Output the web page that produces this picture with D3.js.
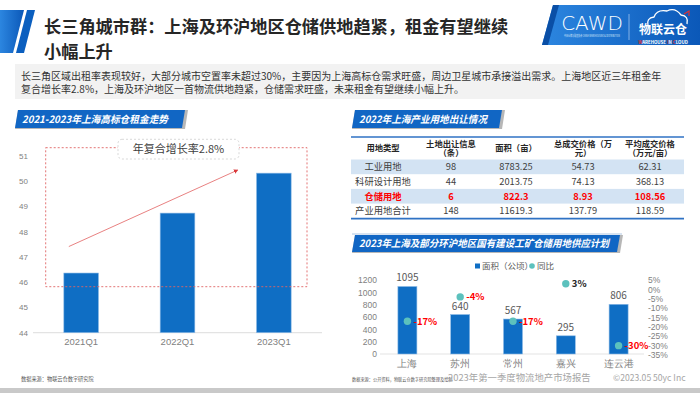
<!DOCTYPE html>
<html>
<head>
<meta charset="utf-8">
<script src="https://cdn.jsdelivr.net/npm/d3@7"></script>
<style>
  body { margin: 0; background: #fff; }
  svg { display: block; font-family: "Noto Sans CJK SC", "Noto Sans", sans-serif; }
</style>
</head>
<body>
<svg width="700" height="393"></svg>
<script>
// **** data ****
var rentQuarters = ['2021Q1', '2022Q1', '2023Q1'];
var rentValues = [46.36, 48.73, 50.31];
var rentTicks = [44, 45, 46, 47, 48, 49, 50, 51];
var cagrLabel = '年复合增长率2.8%';

var landHeaders = [['用地类型'], ['土地出让信息', '（条）'], ['面积（亩）'], ['总成交价格（万', '元）'], ['平均成交价格', '（万元/亩）']];
var landTypes = ['工业用地', '科研设计用地', '仓储用地', '产业用地合计'];
var landCount = ['98', '44', '6', '148'];
var landArea = ['8783.25', '2013.75', '822.3', '11619.3'];
var landPrice = ['54.73', '74.13', '8.93', '137.79'];
var landAvg = ['62.31', '368.13', '108.56', '118.59'];

var supplyCities = ['上海', '苏州', '常州', '嘉兴', '连云港'];
var supplyArea = [1095, 640, 567, 295, 806];
var supplyYoY = [-17, -4, -17, 3, -30];
var areaTicks = [0, 200, 400, 600, 800, 1000, 1200];
var yoyTicks = [5, 0, -5, -10, -15, -20, -25, -30, -35];

var blue = '#0f6ec4';
var svg = d3.select('svg');

var defs = svg.append('defs');
var grad = defs.append('linearGradient').attr('id', 'bannerGrad').attr('x1', 0).attr('x2', 1);
grad.append('stop').attr('offset', 0).attr('stop-color', '#2c86e0');
grad.append('stop').attr('offset', 1).attr('stop-color', '#0b58b8');
var mk = defs.append('marker').attr('id', 'arrow').attr('viewBox', '0 0 10 10')
    .attr('refX', 8).attr('refY', 5).attr('markerWidth', 5).attr('markerHeight', 5).attr('orient', 'auto');
mk.append('path').attr('d', 'M0,0L10,5L0,10z').attr('fill', '#d9383a');

// **** page header ****
svg.append('polygon').attr('points', '0,10 24,10 13,53 0,53').attr('fill', 'url(#bannerGrad)');
svg.append('polygon').attr('points', '27,10 35,10 24,53 16,53').attr('fill', '#0b5fbf');

svg.append('text').attr('x', 44).attr('y', 33).attr('font-size', 17.2).attr('font-weight', 'bold')
    .attr('fill', '#262626').text('长三角城市群：上海及环沪地区仓储供地趋紧，租金有望继续');
svg.append('text').attr('x', 44).attr('y', 58).attr('font-size', 17.2).attr('font-weight', 'bold')
    .attr('fill', '#262626').text('小幅上升');

// logo banner
svg.append('polygon').attr('points', '553,5 700,5 700,45 542,45').attr('fill', 'url(#bannerGrad)');
svg.append('polygon').attr('points', '553,5 559,5 548,45 542,45').attr('fill', '#0a4fa6');
svg.append('text').attr('x', 592).attr('y', 30).attr('text-anchor', 'middle').attr('font-size', 20)
    .attr('font-family', 'DejaVu Sans').attr('font-weight', 200).attr('fill', '#fff').text('CAWD');
svg.append('text').attr('x', 592).attr('y', 37).attr('text-anchor', 'middle').attr('font-size', 3)
    .attr('textLength', 56).attr('lengthAdjust', 'spacingAndGlyphs')
    .attr('fill', '#dbe9fa').text('中国仓储与配送协会 CHINA WAREHOUSING & DISTRIBUTION');
svg.append('line').attr('x1', 629).attr('x2', 629).attr('y1', 14).attr('y2', 40)
    .attr('stroke', '#cfe2f8').attr('stroke-width', 0.6);
svg.append('path').attr('d', 'M648,26 q-2,-8 6,-9 q3,-8 13,-6 q8,-4 14,4 q8,1 6,9')
    .attr('fill', 'none').attr('stroke', '#fff').attr('stroke-width', 1.3);
svg.append('path').attr('d', 'M684,14 l5,-3 l0,5').attr('fill', 'none').attr('stroke', '#e03030').attr('stroke-width', 1.2);
svg.append('text').attr('x', 663).attr('y', 34).attr('text-anchor', 'middle').attr('font-size', 12)
    .attr('font-weight', 'bold').attr('fill', '#fff').text('物联云仓');
var wic = svg.append('text').attr('x', 663).attr('y', 44).attr('text-anchor', 'middle')
    .attr('font-size', 4.4).attr('font-weight', 'bold').attr('fill', '#fff');
[['W', '#e03030'], ['AREHOUSE ', '#fff'], ['I', '#e03030'], ['N ', '#fff'], ['C', '#e03030'], ['LOUD', '#fff']]
    .forEach(function(p) { wic.append('tspan').attr('fill', p[1]).text(p[0]); });

// intro paragraph
svg.append('rect').attr('x', 15).attr('y', 64).attr('width', 670).attr('height', 35).attr('fill', '#f2f2f2');
svg.append('text').attr('x', 21).attr('y', 79.5).attr('font-size', 10).attr('fill', '#333')
    .text('长三角区域出租率表现较好，大部分城市空置率未超过30%，主要因为上海高标仓需求旺盛，周边卫星城市承接溢出需求。上海地区近三年租金年');
svg.append('text').attr('x', 21).attr('y', 92.5).attr('font-size', 10).attr('fill', '#333')
    .text('复合增长率2.8%，上海及环沪地区一首物流供地趋紧，仓储需求旺盛，未来租金有望继续小幅上升。');

// section banners
function banner(x0, x1, y0, y1, label, tw) {
    svg.append('polygon')
        .attr('points', [[x0 + 3, y0], [x1 + 3, y0], [x1, y1 + 1], [x0, y1 + 1]].join(' '))
        .attr('fill', '#b7b7b7');
    svg.append('polygon')
        .attr('points', [[x0 + 3, y0], [x1, y0], [x1 - 3, y1], [x0, y1]].join(' '))
        .attr('fill', '#1166c4');
    svg.append('text').attr('x', x0 + 7).attr('y', (y0 + y1) / 2 + 3.6).attr('font-size', 10)
        .attr('textLength', tw).attr('lengthAdjust', 'spacingAndGlyphs')
        .attr('font-weight', 'bold').attr('font-style', 'italic').attr('fill', '#fff').text(label);
}
banner(15, 185, 110, 128, '2021-2023年上海高标仓租金走势', 146);
banner(352, 502, 110, 128, '2022年上海产业用地出让情况', 128);
svg.append('line').attr('x1', 352).attr('x2', 622).attr('y1', 234).attr('y2', 234)
    .attr('stroke', '#9bb7da').attr('stroke-width', 0.8);
banner(352, 620, 235, 252, '2023年上海及部分环沪地区国有建设工矿仓储用地供应计划', 250);

// **** left chart: rent trend ****
var xRent = d3.scaleBand().domain(rentQuarters).range([33, 322]).paddingInner(0.64).paddingOuter(0.32);
var yRent = d3.scaleLinear().domain([44, 51]).range([332.7, 155.7]);

svg.append('line').attr('x1', 33).attr('x2', 322).attr('y1', yRent(44)).attr('y2', yRent(44))
    .attr('stroke', '#e3e3e3').attr('stroke-width', 1.2);

svg.selectAll('.rentBar').data(rentValues).enter().append('rect')
    .attr('class', 'rentBar')
    .attr('x', function(d, i) { return xRent(rentQuarters[i]); })
    .attr('y', function(d) { return yRent(d); })
    .attr('width', xRent.bandwidth())
    .attr('height', function(d) { return yRent(44) - yRent(d); })
    .attr('fill', blue).attr('stroke', '#8fbbe6').attr('stroke-width', 0.6);

var gy = svg.append('g').attr('transform', 'translate(31,0)')
    .call(d3.axisLeft(yRent).tickValues(rentTicks).tickSize(0).tickPadding(3).tickFormat(d3.format('d')));
gy.select('.domain').remove();
gy.selectAll('text').attr('font-size', 8).attr('fill', '#7f7f7f').attr('font-family', 'inherit');

var gx = svg.append('g').attr('transform', 'translate(0,' + yRent(44) + ')')
    .call(d3.axisBottom(xRent).tickSize(0).tickPadding(6));
gx.select('.domain').remove();
gx.selectAll('text').attr('font-size', 9.5).attr('fill', '#7f7f7f').attr('font-family', 'inherit');

// growth annotation
svg.append('rect').attr('x', 45.7).attr('y', 147.7).attr('width', 261.3).attr('height', 139)
    .attr('fill', 'none').attr('stroke', '#e06464').attr('stroke-width', 0.9).attr('stroke-dasharray', '2,2');
svg.append('rect').attr('x', 118).attr('y', 139.3).attr('width', 121).attr('height', 19.7).attr('rx', 4)
    .attr('fill', '#fff').attr('stroke', '#cfcfcf').attr('stroke-width', 0.8).attr('stroke-dasharray', '2,2');
svg.append('text').attr('x', 178.5).attr('y', 153).attr('text-anchor', 'middle').attr('font-size', 11)
    .attr('fill', '#404040').text(cagrLabel);
svg.append('line')
    .attr('x1', xRent('2021Q1') + 5).attr('y1', yRent(46.3) - 28)
    .attr('x2', xRent('2023Q1') - 19).attr('y2', yRent(50.31) - 3)
    .attr('stroke', '#e57373').attr('stroke-width', 0.9).attr('marker-end', 'url(#arrow)');

svg.append('text').attr('x', 21).attr('y', 381).attr('font-size', 5.2).attr('fill', '#555')
    .text('数据来源：物联云仓数字研究院');

// **** right top: land table ****
var colX = [383, 451, 516, 583, 650];
var yRow = d3.scaleBand().domain(landTypes).range([159.5, 218.3]);

svg.selectAll('.rowBg').data(landTypes.filter(function(d, i) { return i % 2 === 0; })).enter().append('rect')
    .attr('class', 'rowBg')
    .attr('x', 351).attr('width', 333)
    .attr('y', function(d) { return yRow(d); })
    .attr('height', yRow.bandwidth())
    .attr('fill', '#d3e3f3');

svg.append('line').attr('x1', 351).attr('x2', 684).attr('y1', 137).attr('y2', 137)
    .attr('stroke', '#2f72c4').attr('stroke-width', 1.6);
svg.append('line').attr('x1', 351).attr('x2', 684).attr('y1', 218.6).attr('y2', 218.6)
    .attr('stroke', '#2f72c4').attr('stroke-width', 1.6);

landHeaders.forEach(function(lines, c) {
    var t = svg.append('text').attr('text-anchor', 'middle')
        .attr('font-size', 8.3).attr('font-weight', 'bold').attr('fill', '#262626');
    lines.forEach(function(s, k) {
        t.append('tspan').attr('x', colX[c])
            .attr('y', lines.length === 1 ? 151 : 146.5 + k * 9.5).text(s);
    });
});

var landCols = [landTypes, landCount, landArea, landPrice, landAvg];
landTypes.forEach(function(type, r) {
    var hl = type === '仓储用地';
    landCols.forEach(function(col, c) {
        svg.append('text').attr('x', colX[c]).attr('y', yRow(type) + yRow.bandwidth() / 2 + 3.3)
            .attr('text-anchor', 'middle').attr('font-size', 9.3)
            .attr('font-weight', hl ? 'bold' : 'normal')
            .attr('fill', hl ? '#ff0000' : '#404040').text(col[r]);
    });
});

// **** right bottom: supply plan ****
var xCity = d3.scaleBand().domain(supplyCities).range([381, 645]).paddingInner(0.64).paddingOuter(0.32);
var yArea = d3.scaleLinear().domain([0, 1200]).range([354, 280]);
var yYoY = d3.scaleLinear().domain([-35, 5]).range([355, 280]);

svg.append('line').attr('x1', 380).attr('x2', 644).attr('y1', 354).attr('y2', 354)
    .attr('stroke', '#e3e3e3').attr('stroke-width', 1);

svg.selectAll('.areaBar').data(supplyArea).enter().append('rect')
    .attr('class', 'areaBar')
    .attr('x', function(d, i) { return xCity(supplyCities[i]); })
    .attr('y', function(d) { return yArea(d); })
    .attr('width', xCity.bandwidth())
    .attr('height', function(d) { return yArea(0) - yArea(d); })
    .attr('fill', blue).attr('stroke', '#8fbbe6').attr('stroke-width', 0.6);

svg.selectAll('.areaLbl').data(supplyArea).enter().append('text')
    .attr('class', 'areaLbl')
    .attr('x', function(d, i) { return xCity(supplyCities[i]) + xCity.bandwidth() / 2; })
    .attr('y', function(d) { return yArea(d) - 5; })
    .attr('text-anchor', 'middle').attr('font-size', 10).attr('fill', '#595959')
    .text(function(d) { return d; });

svg.selectAll('.yoyDot').data(supplyYoY).enter().append('circle')
    .attr('class', 'yoyDot')
    .attr('cx', function(d, i) { return xCity(supplyCities[i]) + xCity.bandwidth() / 2; })
    .attr('cy', function(d) { return yYoY(d); })
    .attr('r', 3.7).attr('fill', '#5cc1bd');

svg.selectAll('.yoyLbl').data(supplyYoY).enter().append('text')
    .attr('class', 'yoyLbl')
    .attr('x', function(d, i) { return xCity(supplyCities[i]) + xCity.bandwidth() / 2 + 6; })
    .attr('y', function(d) { return yYoY(d) + 3.5; })
    .attr('font-size', 9.5).attr('font-weight', 'bold')
    .attr('fill', function(d) { return d < 0 ? '#ff0000' : '#262626'; })
    .text(function(d) { return d + '%'; });

var gl = svg.append('g').attr('transform', 'translate(380,0)')
    .call(d3.axisLeft(yArea).tickValues(areaTicks).tickSize(0).tickPadding(3).tickFormat(d3.format('d')));
gl.select('.domain').remove();
gl.selectAll('text').attr('font-size', 8.5).attr('fill', '#7f7f7f').attr('font-family', 'inherit');

var gr = svg.append('g').attr('transform', 'translate(645,0)')
    .call(d3.axisRight(yYoY).tickValues(yoyTicks).tickSize(0).tickPadding(3)
        .tickFormat(function(d) { return d + '%'; }));
gr.select('.domain').remove();
gr.selectAll('text').attr('font-size', 8.5).attr('fill', '#7f7f7f').attr('font-family', 'inherit');

var gc = svg.append('g').attr('transform', 'translate(0,354)')
    .call(d3.axisBottom(xCity).tickSize(0).tickPadding(6));
gc.select('.domain').remove();
gc.selectAll('text').attr('font-size', 9.5).attr('fill', '#7f7f7f').attr('font-family', 'inherit');

// legend
svg.append('rect').attr('x', 475).attr('y', 263.5).attr('width', 5).attr('height', 5).attr('fill', blue);
svg.append('text').attr('x', 482).attr('y', 269).attr('font-size', 8.5).attr('fill', '#595959').text('面积（公顷）');
svg.append('circle').attr('cx', 532).attr('cy', 266).attr('r', 2.8).attr('fill', '#5cc1bd');
svg.append('text').attr('x', 537).attr('y', 269).attr('font-size', 8.5).attr('fill', '#595959').text('同比');

// **** footer ****
svg.append('text').attr('x', 352).attr('y', 381).attr('font-size', 4.2).attr('fill', '#555')
    .text('数据来源：公开资料，物联云仓数字研究院整理及绘制');
svg.append('text').attr('x', 448).attr('y', 381).attr('font-size', 9.4).attr('fill', '#a6a6a6')
    .text('2023年第一季度物流地产市场报告');
svg.append('text').attr('x', 613).attr('y', 381).attr('font-size', 8.6).attr('fill', '#a6a6a6')
    .text('©2023.05 50yc Inc');
svg.append('rect').attr('x', 0).attr('y', 388).attr('width', 700).attr('height', 5).attr('fill', '#c9c9c9');
</script>
</body>
</html>
